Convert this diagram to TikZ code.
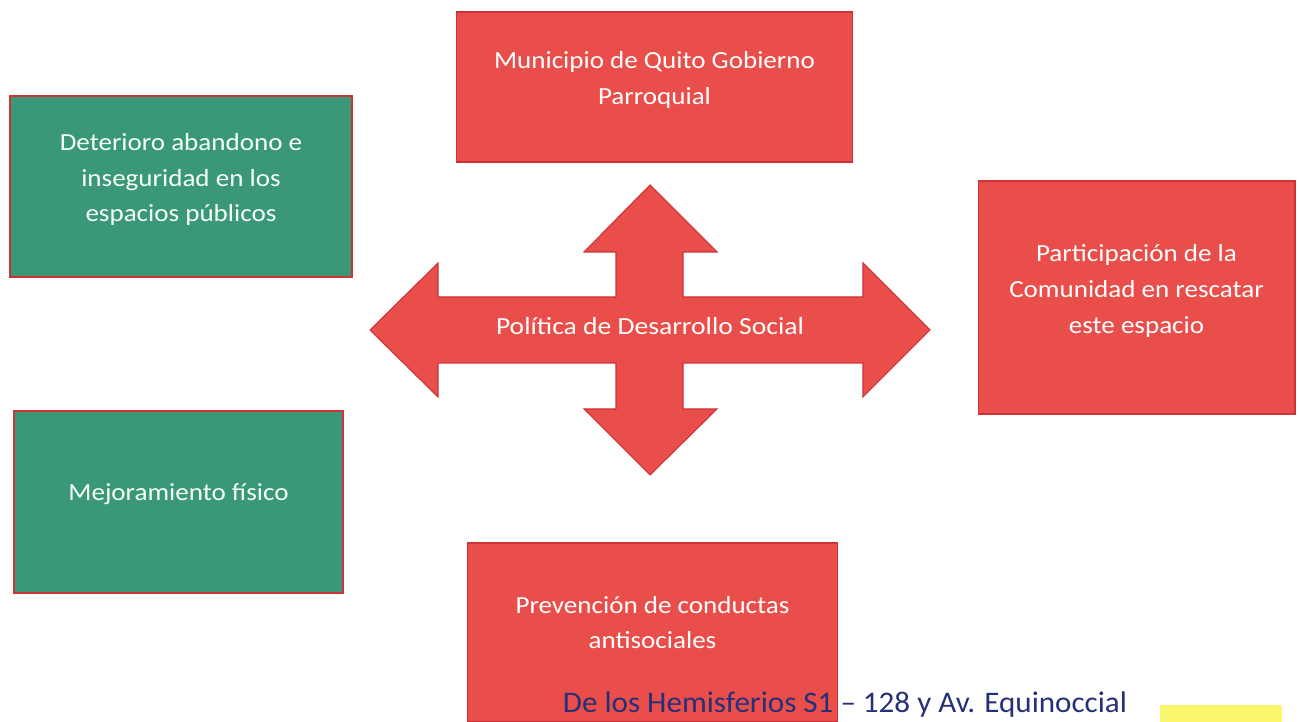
\documentclass[tikz,border=0pt]{standalone}
\usepackage{fontspec}
\setmainfont{Carlito}
\usepackage{xcolor}
\usepackage{tikz}
\usetikzlibrary{calc, positioning}
\definecolor{boxred}{RGB}{233,78,74}
\definecolor{boxgreen}{RGB}{58,152,120}
\definecolor{edgered}{RGB}{205,50,55}
\definecolor{navytext}{RGB}{38,48,120}
\definecolor{markyellow}{RGB}{250,246,110}
\tikzset{
    redbox/.style = {draw=edgered, fill=boxred, rectangle, inner sep=0em, line width=0.6pt},
    greenbox/.style = {draw=edgered, fill=boxgreen, rectangle, inner sep=0em, line width=0.8pt},
    boxtext/.style = {draw=none, fill=none, rectangle, inner sep=0em, align=center,
      text=white, xscale=1.1, font=\fontsize{14}{20.4}\selectfont},
    textnode/.style = {draw=none, fill=none, rectangle, inner sep=0em, align=center},
    crossarrow/.style = {draw=edgered, fill=boxred, line width=0.6pt, line join=miter}
}
\begin{document}
\begin{tikzpicture}[x=0.02cm, y=-0.02cm]
    \useasboundingbox (0,0) rectangle (1299,722);

    % boxes round the cross
    \node [name=muni, redbox, minimum width=7.94cm, minimum height=3.0cm] at (654.5,87) {};
    \node [name=munitext, boxtext] at ($(muni)+(0,-7)$) {Municipio de Quito Gobierno\\Parroquial};

    \node [name=deter, greenbox, minimum width=6.84cm, minimum height=3.62cm] at (181,186.5) {};
    \node [name=detertext, boxtext, text=white!96!green] at ($(deter)+(0,-7)$)
      {Deterioro abandono e\\inseguridad en los\\espacios públicos};

    \node [name=mejora, greenbox, minimum width=6.58cm, minimum height=3.64cm] at (178.5,502) {};
    \node [name=mejoratext, boxtext, text=white!96!green] at ($(mejora)+(0,-8)$) {Mejoramiento físico};

    \node [name=partic, redbox, minimum width=6.34cm, minimum height=4.66cm] at (1136.5,297.5) {};
    \node [name=partictext, boxtext] at ($(partic)+(0,-6.5)$)
      {Participación de la\\Comunidad en rescatar\\este espacio};

    \node [name=preven, redbox, minimum width=7.42cm, minimum height=3.58cm] at (652.5,632.5) {};
    \node [name=preventext, boxtext] at ($(preven)+(0,-10)$) {Prevención de conductas\\antisociales};

    % four-way arrow
    \draw [crossarrow] (370,330) -- (438,263) -- (438,297) -- (616,297) -- (616,252)
      -- (584,252) -- (650,185) -- (717,252) -- (683,252) -- (683,297) -- (863,297)
      -- (863,263) -- (930,330) -- (863,397) -- (863,363) -- (683,363) -- (683,409)
      -- (717,409) -- (650,475) -- (584,409) -- (616,409) -- (616,363) -- (438,363)
      -- (438,397) -- cycle;
    \node [name=politica, boxtext, xscale=1.02] at (650,326) {Política de Desarrollo Social};

    % footer
    \node [name=direccion, textnode, text=navytext, font=\fontsize{17}{20}\selectfont,
      xscale=1.04, anchor=base] at (845,713) {De los Hemisferios S1 -- 128 y Av. Equinoccial};
    \fill [markyellow] (1160,705) rectangle (1282,722);
\end{tikzpicture}
\end{document}
